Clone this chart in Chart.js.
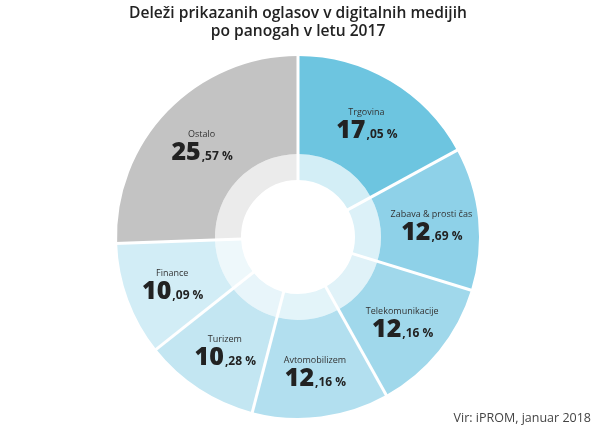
<!DOCTYPE html>
<html>
<head>
<meta charset="utf-8">
<script src="https://cdn.jsdelivr.net/npm/chart.js@4"></script>
<style>
    html, body { margin: 0; padding: 0; background: #fff; }
    #wrap { width: 600px; height: 431px; }
</style>
</head>
<body>
<div id="wrap"><canvas id="graficoPanoge"></canvas></div>
<script>
// podatki
const panoge = ["Trgovina", "Zabava & prosti čas", "Telekomunikacije", "Avtomobilizem", "Turizem", "Finance", "Ostalo"];
const delezi = [17.05, 12.69, 12.16, 12.16, 10.28, 10.09, 25.57];
const barveZunaj = ["#6dc5e0", "#8ed1e8", "#a0d8eb", "#b2dfef", "#c3e6f2", "#d2edf6", "#c3c3c3"];
const barveZnotraj = ["#d3eef6", "#dcf1f8", "#e0f2f8", "#e3f4f9", "#e8f5fa", "#eef8fb", "#ebebeb"];
const naslov = ["Deleži prikazanih oglasov v digitalnih medijih", "po panogah v letu 2017"];
const vir = "Vir: iPROM, januar 2018";

const font = "'Open Sans', 'Noto Sans', sans-serif";

// bele crte med segmenti (cez oba obroca)
const locnice = {
    id: "locnice",
    afterDatasetsDraw(chart) {
        const zunaj = chart.getDatasetMeta(0).data;
        const znotraj = chart.getDatasetMeta(1).data;
        const ctx = chart.ctx;
        ctx.save();
        ctx.strokeStyle = "#ffffff";
        ctx.lineWidth = 3;
        zunaj.forEach((arc, i) => {
            const a = arc.startAngle;
            const r0 = znotraj[i].innerRadius - 1;
            const r1 = arc.outerRadius + 2;
            ctx.beginPath();
            ctx.moveTo(arc.x + Math.cos(a) * r0, arc.y + Math.sin(a) * r0);
            ctx.lineTo(arc.x + Math.cos(a) * r1, arc.y + Math.sin(a) * r1);
            ctx.stroke();
        });
        ctx.restore();
    }
};

// oznake v segmentih
const oznake = {
    id: "oznake",
    afterDraw(chart) {
        const ctx = chart.ctx;
        const meta = chart.getDatasetMeta(0);
        ctx.save();
        meta.data.forEach((arc, i) => {
            const mid = (arc.startAngle + arc.endAngle) / 2;
            const r = (arc.innerRadius + arc.outerRadius) / 2 + 2;
            const x = arc.x + Math.cos(mid) * r;
            const y = arc.y + Math.sin(mid) * r;

            ctx.textBaseline = "alphabetic";
            ctx.textAlign = "center";
            ctx.fillStyle = "#333";
            ctx.font = "400 9px " + font;
            ctx.fillText(panoge[i], x, y - 7);

            const deli = delezi[i].toFixed(2).split(".");
            const velik = deli[0];
            const mali = "," + deli[1] + " %";
            ctx.font = "800 25px " + font;
            const w1 = ctx.measureText(velik).width;
            ctx.font = "700 12px " + font;
            const w2 = ctx.measureText(mali).width;
            const x0 = x - (w1 + w2) / 2;
            ctx.textAlign = "left";
            ctx.fillStyle = "#222";
            ctx.font = "800 25px " + font;
            ctx.fillText(velik, x0, y + 16);
            ctx.font = "700 12px " + font;
            ctx.fillText(mali, x0 + w1 + 1, y + 16);
        });

        // vir
        ctx.textAlign = "right";
        ctx.fillStyle = "#444";
        ctx.font = "400 12.5px " + font;
        ctx.fillText(vir, 591, 422);
        ctx.restore();
    }
};

addEventListener("DOMContentLoaded", () => {
    const ctx = document.getElementById("graficoPanoge").getContext("2d");
    new Chart(ctx, {
        type: "doughnut",
        data: {
            labels: panoge,
            datasets: [
                {
                    data: delezi,
                    backgroundColor: barveZunaj,
                    borderWidth: 0,
                    weight: 98
                },
                {
                    data: delezi,
                    backgroundColor: barveZnotraj,
                    borderWidth: 0,
                    weight: 26
                }
            ]
        },
        options: {
            responsive: true,
            maintainAspectRatio: false,
            animation: false,
            cutout: "31.5%",
            layout: {
                padding: { top: 0, bottom: 13, left: 0, right: 4 }
            },
            plugins: {
                legend: { display: false },
                tooltip: { enabled: false },
                title: {
                    display: true,
                    text: naslov,
                    color: "#222",
                    font: { family: font, size: 15.6, weight: "600", lineHeight: 1.17 },
                    padding: { top: 4, bottom: 15.5 }
                }
            }
        },
        plugins: [locnice, oznake]
    });
});
</script>
</body>
</html>
